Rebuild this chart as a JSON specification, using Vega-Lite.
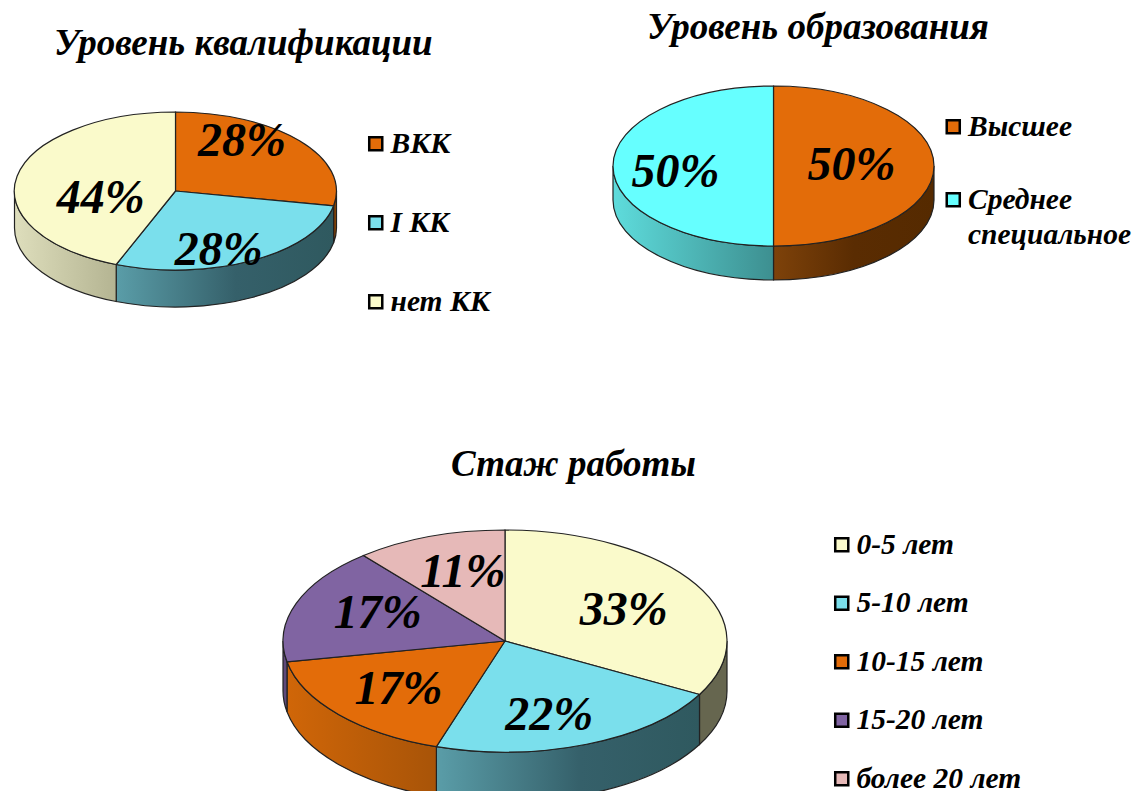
{
"$schema":"https://vega.github.io/schema/vega-lite/v6.json",
"padding":0,
"background":"white",
"config":{"view":{"stroke":null},
"title":{"font":"Liberation Serif","fontWeight":"bold","fontStyle":"italic","fontSize":37,"color":"#000","anchor":"start","baseline":"alphabetic"},
"text":{"font":"Liberation Serif","fontWeight":"bold","fontStyle":"italic","fontSize":48,"color":"#000","align":"center","baseline":"middle"},
"point":{"filled":true,"opacity":1,"size":4,"stroke":"#222","strokeWidth":1.2},
"legend":{"orient":"none","title":null,"symbolOpacity":1,"labelFont":"Liberation Serif","labelFontWeight":"bold","labelFontStyle":"italic","labelFontSize":29.5,"labelColor":"#000","labelOffset":0,"labelLimit":400,"padding":0,"columnPadding":0}},
"datasets":{
"qual":[{"category":"ВКК","value":28},{"category":"I КК","value":28},{"category":"нет КК","value":44}],
"edu":[{"category":"Высшее","value":50},{"category":"Среднее специальное","value":50}],
"exp":[{"category":"0-5 лет","value":33},{"category":"5-10 лет","value":22},{"category":"10-15 лет","value":17},{"category":"15-20 лет","value":17},{"category":"более 20 лет","value":11}]
},
"resolve":{"scale":{"color":"independent"}},
"spacing":491,
"bounds":"flush",
"vconcat":[
{"hconcat":[
{"width":351,"height":382,"data":{"name":"qual"},
"title":{"text":"Уровень квалификации","offset":-63,"dx":54},
"layer":[
{"transform":[{"filter":"datum.category==='ВКК'"}],"mark":{"type":"point","shape":"M161,0 A161,79 0 0 1 158.1,14.8 L158.1,51.8 A161,79 0 0 0 161,37 Z","fill":"#8A4404"},"encoding":{}},
{"transform":[{"filter":"datum.category==='I КК'"}],"mark":{"type":"point","shape":"M158.1,14.8 A161,79 0 0 1 -59.3,73.5 L-59.3,110.5 A161,79 0 0 0 158.1,51.8 Z","fill":{"gradient":"linear","x1":0,"y1":0,"x2":1,"y2":0,"stops":[{"offset":0,"color":"#5A9DA8"},{"offset":0.55,"color":"#35606A"},{"offset":1,"color":"#2F595F"}]}},"encoding":{}},
{"transform":[{"filter":"datum.category==='нет КК'"}],"mark":{"type":"point","shape":"M-59.3,73.5 A161,79 0 0 1 -161,0 L-161,37 A161,79 0 0 0 -59.3,110.5 Z","fill":{"gradient":"linear","x1":0,"y1":0,"x2":1,"y2":0,"stops":[{"offset":0,"color":"#DEDEBC"},{"offset":1,"color":"#B4B492"}]}},"encoding":{}},
{"encoding":{"color":{"field":"category","type":"nominal","scale":{"domain":["ВКК","I КК","нет КК"],"range":["#E36C09","#7ADFEC","#FAFACB"]},"legend":{"legendX":361,"legendY":129,"rowPadding":48,"symbolType":"square","symbolSize":170,"encoding":{"symbols":{"stroke":{"value":"#000"},"strokeWidth":{"value":2.5}}}}}},
"layer":[
{"transform":[{"filter":"datum.category==='ВКК'"}],"mark":{"type":"point","shape":"M0,0 L0,-79 A161,79 0 0 1 158.1,14.8 Z"}},
{"transform":[{"filter":"datum.category==='I КК'"}],"mark":{"type":"point","shape":"M0,0 L158.1,14.8 A161,79 0 0 1 -59.3,73.5 Z"}},
{"transform":[{"filter":"datum.category==='нет КК'"}],"mark":{"type":"point","shape":"M0,0 L-59.3,73.5 A161,79 0 0 1 0,-79 Z"}}
]},
{"transform":[{"stack":"value","as":["v0","v1"]},{"calculate":"(datum.v0+datum.v1)/200*2*PI","as":"mid"},{"calculate":"80.6*sin(datum.mid)+4.4","as":"lx"},{"calculate":"-69.2*cos(datum.mid)-14.8*sin(datum.mid)+6.5","as":"ly"},{"calculate":"datum.value+'%'","as":"pct"}],
"mark":{"type":"text"},
"encoding":{"text":{"field":"pct"},"x":{"field":"lx","type":"quantitative","axis":null,"scale":{"domain":[-175.5,175.5]}},"y":{"field":"ly","type":"quantitative","axis":null,"scale":{"domain":[191,-191]}}}}
]},
{"width":700,"height":332,"data":{"name":"edu"},
"title":{"text":"Уровень образования","offset":-47,"dx":223.5},
"layer":[
{"transform":[{"filter":"datum.category==='Высшее'"}],"mark":{"type":"point","shape":"M160.5,0 A160.5,80 0 0 1 0,80 L0,114 A160.5,80 0 0 0 160.5,34 Z","fill":{"gradient":"linear","x1":0,"y1":0,"x2":1,"y2":0,"stops":[{"offset":0,"color":"#7E420A"},{"offset":0.5,"color":"#5A2C02"},{"offset":1,"color":"#552A00"}]}},"encoding":{}},
{"transform":[{"filter":"datum.category==='Среднее специальное'"}],"mark":{"type":"point","shape":"M0,80 A160.5,80 0 0 1 -160.5,0 L-160.5,34 A160.5,80 0 0 0 0,114 Z","fill":{"gradient":"linear","x1":0,"y1":0,"x2":1,"y2":0,"stops":[{"offset":0,"color":"#5EDCDC"},{"offset":1,"color":"#3D8F90"}]}},"encoding":{}},
{"encoding":{"color":{"field":"category","type":"nominal","scale":{"domain":["Высшее","Среднее специальное"],"range":["#E36C09","#66FFFF"]},"legend":{"legendX":515,"legendY":112,"rowPadding":42,"symbolType":"square","symbolSize":170,"labelExpr":"split(datum.label,' ')","encoding":{"symbols":{"stroke":{"value":"#000"},"strokeWidth":{"value":2.5}},"labels":{"lineHeight":{"value":35}}}}}},
"layer":[
{"transform":[{"filter":"datum.category==='Высшее'"}],"mark":{"type":"point","shape":"M0,0 L0,-80 A160.5,80 0 0 1 0,80 Z"}},
{"transform":[{"filter":"datum.category==='Среднее специальное'"}],"mark":{"type":"point","shape":"M0,0 L0,80 A160.5,80 0 0 1 0,-80 Z"}}
]},
{"transform":[{"stack":"value","as":["v0","v1"]},{"calculate":"(datum.v0+datum.v1)/200*2*PI","as":"mid"},{"calculate":"88*sin(datum.mid)-10","as":"lx"},{"calculate":"3-3.5*sin(datum.mid)","as":"ly"},{"calculate":"datum.value+'%'","as":"pct"}],
"mark":{"type":"text"},
"encoding":{"text":{"field":"pct"},"x":{"field":"lx","type":"quantitative","axis":null,"scale":{"domain":[-350,350]}},"y":{"field":"ly","type":"quantitative","axis":null,"scale":{"domain":[166,-166]}}}}
]}
],"spacing":72.5,"bounds":"flush","resolve":{"scale":{"color":"independent"}}},
{"width":1010,"height":300,"data":{"name":"exp"},
"title":{"text":"Стаж работы","offset":7,"dx":451},
"layer":[
{"transform":[{"filter":"datum.category==='0-5 лет'"}],"mark":{"type":"point","clip":true,"shape":"M222,0 A222,111 0 0 1 194.5,53.5 L194.5,103.5 A222,111 0 0 0 222,50 Z","fill":"#66664F"},"encoding":{}},
{"transform":[{"filter":"datum.category==='5-10 лет'"}],"mark":{"type":"point","clip":true,"shape":"M194.5,53.5 A222,111 0 0 1 -68.6,105.6 L-68.6,155.6 A222,111 0 0 0 194.5,103.5 Z","fill":{"gradient":"linear","x1":1,"y1":0,"x2":0,"y2":0,"stops":[{"offset":0,"color":"#2F595F"},{"offset":0.45,"color":"#35606A"},{"offset":1,"color":"#5A9DA8"}]}},"encoding":{}},
{"transform":[{"filter":"datum.category==='10-15 лет'"}],"mark":{"type":"point","clip":true,"shape":"M-68.6,105.6 A222,111 0 0 1 -218,20.8 L-218,70.8 A222,111 0 0 0 -68.6,155.6 Z","fill":{"gradient":"linear","x1":0,"y1":0,"x2":1,"y2":0,"stops":[{"offset":0,"color":"#D06608"},{"offset":1,"color":"#A85408"}]}},"encoding":{}},
{"transform":[{"filter":"datum.category==='15-20 лет'"}],"mark":{"type":"point","clip":true,"shape":"M-218,20.8 A222,111 0 0 1 -222,0 L-222,50 A222,111 0 0 0 -218,70.8 Z","fill":"#5F4A7A"},"encoding":{}},
{"encoding":{"color":{"field":"category","type":"nominal","scale":{"domain":["0-5 лет","5-10 лет","10-15 лет","15-20 лет","более 20 лет"],"range":["#FAFACB","#7ADFEC","#E36C09","#8064A2","#E6B9B8"]},"legend":{"legendX":827,"legendY":39,"rowPadding":27.5,"symbolType":"square","symbolSize":170,"encoding":{"symbols":{"stroke":{"value":"#000"},"strokeWidth":{"value":2.5}}}}}},
"layer":[
{"transform":[{"filter":"datum.category==='0-5 лет'"}],"mark":{"type":"point","shape":"M0,0 L0,-111 A222,111 0 0 1 194.5,53.5 Z"}},
{"transform":[{"filter":"datum.category==='5-10 лет'"}],"mark":{"type":"point","shape":"M0,0 L194.5,53.5 A222,111 0 0 1 -68.6,105.6 Z"}},
{"transform":[{"filter":"datum.category==='10-15 лет'"}],"mark":{"type":"point","shape":"M0,0 L-68.6,105.6 A222,111 0 0 1 -218,20.8 Z"}},
{"transform":[{"filter":"datum.category==='15-20 лет'"}],"mark":{"type":"point","shape":"M0,0 L-218,20.8 A222,111 0 0 1 -141.5,-85.5 Z"}},
{"transform":[{"filter":"datum.category==='более 20 лет'"}],"mark":{"type":"point","shape":"M0,0 L-141.5,-85.5 A222,111 0 0 1 0,-111 Z"}}
]},
{"transform":[{"stack":"value","as":["v0","v1"]},{"calculate":"(datum.v0+datum.v1)/200*2*PI","as":"mid"},{"calculate":"136*sin(datum.mid)+5.3*cos(datum.mid)-1","as":"lx"},{"calculate":"-74.7*cos(datum.mid)+5.3*sin(datum.mid)+3.7","as":"ly"},{"calculate":"datum.value+'%'","as":"pct"}],
"mark":{"type":"text"},
"encoding":{"text":{"field":"pct"},"x":{"field":"lx","type":"quantitative","axis":null,"scale":{"domain":[-505,505]}},"y":{"field":"ly","type":"quantitative","axis":null,"scale":{"domain":[150,-150]}}}}
]}
]
}
